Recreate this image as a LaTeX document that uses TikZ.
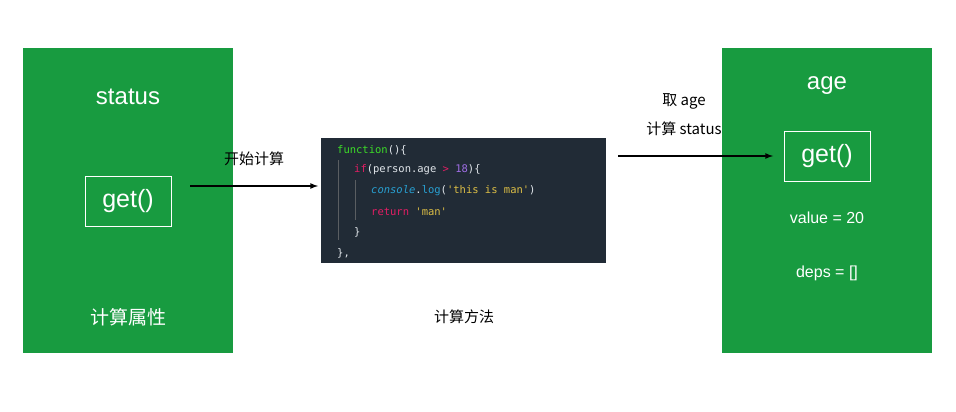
\documentclass[tikz,border=0pt]{standalone}
\usepackage{fontspec}
\setmainfont{Liberation Sans}
\newfontfamily\cjk{Noto Sans CJK SC}
\newfontfamily\codef{DejaVu Sans Mono}
\definecolor{gr}{RGB}{24,155,64}
\definecolor{codebg}{RGB}{33,43,54}
\definecolor{cgreen}{RGB}{60,220,40}
\definecolor{cpink}{RGB}{226,30,100}
\definecolor{cpurple}{RGB}{160,110,230}
\definecolor{cblue}{RGB}{40,160,210}
\definecolor{cyel}{RGB}{220,190,70}
\definecolor{cwhite}{RGB}{225,230,235}
\begin{document}
\begin{tikzpicture}[x=1pt,y=-1pt,
  panel/.style={fill=gr,draw=none},
  wt/.style={text=white,inner sep=0pt},
  gbox/.style={draw=white,line width=0.8pt,text=white,minimum width=86pt,minimum height=50pt,inner sep=0pt,font=\fontsize{25}{25}\selectfont},
  arr/.style={-latex,line width=1.6pt},
  lbl/.style={inner sep=0pt,font=\cjk\fontsize{15}{17}\selectfont},
  code/.style={anchor=west,inner sep=0pt,font=\codef\fontsize{10.5}{12}\selectfont}]
\useasboundingbox (0,0) rectangle (956,412);
\fill[panel] (23,48) rectangle (233,353);
\fill[panel] (722,48) rectangle (932,353);
\node[wt,font=\fontsize{24}{24}\selectfont] (st) at (128,97) {status};
\node[gbox] (g1) at (128,201) {get()};
\node[wt,font=\cjk\fontsize{19}{20}\selectfont] (jsx) at (128,317) {计算属性};
\node[wt,font=\fontsize{24}{24}\selectfont] (age) at (827,86) {age};
\node[gbox] (g2) at (827,156) {get()};
\node[wt,font=\fontsize{16}{16}\selectfont] (val) at (827,218) {value = 20};
\node[wt,font=\fontsize{16}{16}\selectfont] (deps) at (827,273) {deps = []};
\fill[codebg] (321,138) rectangle (606,263);
\node[draw=none,minimum width=285pt,minimum height=125pt] (code) at (463.5,200.5) {};
\draw[gray!60!codebg,line width=0.6pt] (338,160) -- (338,240);
\draw[gray!60!codebg,line width=0.6pt] (355,180) -- (355,220);
\node[code] at (337,150) {\color{cgreen}function\color{cwhite}()\{};
\node[code] at (354,170) {\color{cpink}if\color{cwhite}(person.age \color{cpink}> \color{cpurple}18\color{cwhite})\{};
\node[code] at (371,191) {\color{cblue}\itshape console\upshape\color{cwhite}.\color{cblue}log\color{cwhite}(\color{cyel}'this is man'\color{cwhite})};
\node[code] at (371,212) {\color{cpink}return \color{cyel}'man'};
\node[code] at (354,232) {\color{cwhite}\}};
\node[code] at (337,253) {\color{cwhite}\},};
\node[lbl] (ff) at (464,317) {计算方法};
\coordinate (a1s) at (190,186);
\coordinate (a1e) at (318,186);
\draw[arr] (a1s) -- (a1e) node[lbl,midway,above=19pt] {开始计算};
\coordinate (a2s) at (618,156);
\coordinate (a2e) at (773,156);
\draw[arr] (a2s) -- (a2e);
\node[lbl] (l2a) at (684,101) {取 age};
\node[lbl] (l2b) at (684,129) {计算 status};
\end{tikzpicture}
\end{document}
